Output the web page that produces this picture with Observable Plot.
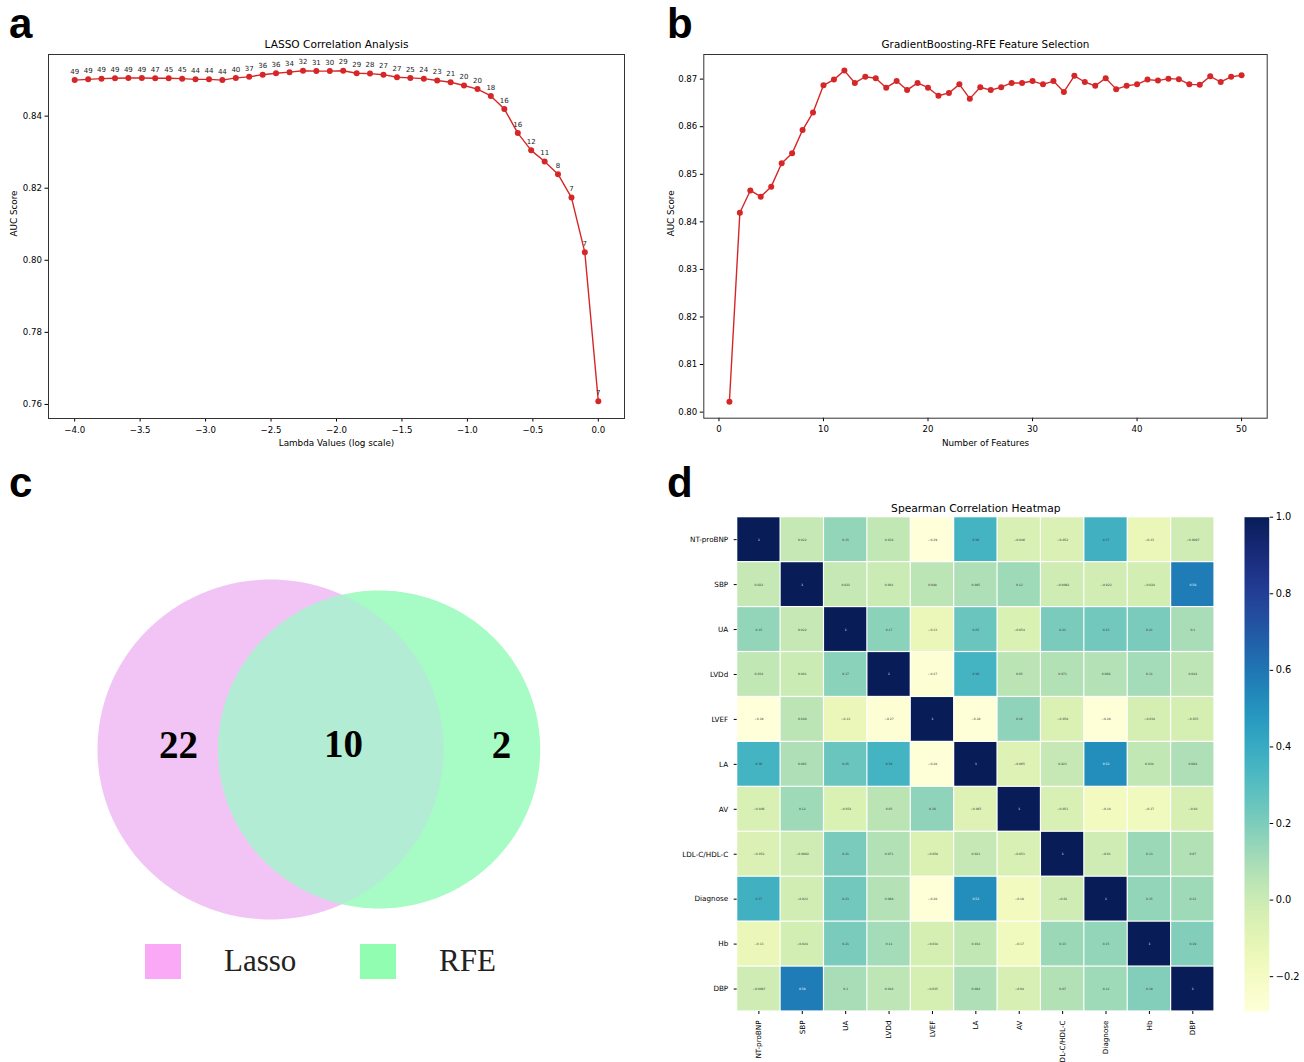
<!DOCTYPE html>
<html><head><meta charset="utf-8">
<script src="https://cdn.jsdelivr.net/npm/d3@7"></script>
<script src="https://cdn.jsdelivr.net/npm/@observablehq/plot@0.6"></script>
<style>
body{margin:0;background:#fff;}
#root{position:relative;width:1304px;height:1062px;overflow:hidden;background:#fff;font-family:"DejaVu Sans",sans-serif;}
.panel{position:absolute;}
.panel svg{overflow:visible;}
.letter{position:absolute;font-family:"Liberation Sans",Arial,sans-serif;font-weight:bold;font-size:42px;line-height:1;color:#000;}
.leg{position:absolute;font-family:"Liberation Serif","Times New Roman",serif;font-size:31px;color:#222;line-height:1;}
.sw{position:absolute;}
</style></head><body>
<div id="root">
  <div class="letter" style="left:9px;top:3px;">a</div>
  <div class="letter" style="left:667px;top:3px;">b</div>
  <div class="letter" style="left:9px;top:462px;">c</div>
  <div class="letter" style="left:667px;top:462px;">d</div>
  <div class="panel" id="pa" style="left:0;top:30px;"></div>
  <div class="panel" id="pb" style="left:660px;top:30px;"></div>
  <div class="panel" id="pc" style="left:0;top:460px;"></div>
  <div class="panel" id="pd" style="left:680px;top:495px;"></div>
  <div class="panel" id="pe" style="left:1230px;top:495px;"></div>
</div>
<script>
// ---------- Panel a: LASSO ----------
const lassoLogLambda = [-4.000,-3.897,-3.795,-3.692,-3.590,-3.487,-3.385,-3.282,-3.179,-3.077,
  -2.974,-2.872,-2.769,-2.667,-2.564,-2.462,-2.359,-2.256,-2.154,-2.051,
  -1.949,-1.846,-1.744,-1.641,-1.538,-1.436,-1.333,-1.231,-1.128,-1.026,
  -0.923,-0.821,-0.718,-0.615,-0.513,-0.410,-0.308,-0.205,-0.103,0.000];
const lassoAUC = [0.8500,0.8502,0.8504,0.8505,0.8506,0.8506,0.8505,0.8505,0.8504,0.8502,
  0.8502,0.8500,0.8506,0.8509,0.8515,0.8519,0.8522,0.8526,0.8525,0.8525,
  0.8526,0.8519,0.8518,0.8515,0.8508,0.8506,0.8504,0.8499,0.8494,0.8485,
  0.8475,0.8456,0.8420,0.8353,0.8305,0.8274,0.8239,0.8174,0.8022,0.7609];
const lassoNFeatures = [49,49,49,49,49,49,47,45,45,44,44,44,40,37,36,36,34,32,31,30,
  29,29,28,27,27,25,24,23,21,20,20,18,16,16,12,11,8,7,7,7];

// ---------- Panel b: RFE ----------
const rfeNFeatures = [1,2,3,4,5,6,7,8,9,10,11,12,13,14,15,16,17,18,19,20,21,22,23,24,25,
  26,27,28,29,30,31,32,33,34,35,36,37,38,39,40,41,42,43,44,45,46,47,48,49,50];
const rfeAUC = [0.8022,0.8419,0.8466,0.8453,0.8474,0.8523,0.8544,0.8593,0.8630,0.8687,
  0.8699,0.8718,0.8692,0.8705,0.8702,0.8682,0.8696,0.8677,0.8692,0.8682,
  0.8665,0.8671,0.8689,0.8659,0.8683,0.8677,0.8683,0.8692,0.8692,0.8696,
  0.8689,0.8696,0.8673,0.8707,0.8694,0.8686,0.8702,0.8679,0.8686,0.8689,
  0.8699,0.8697,0.8701,0.8700,0.8689,0.8688,0.8706,0.8694,0.8705,0.8708];

// ---------- Panel c: Venn ----------
const vennSets = ["Lasso","RFE"];
const vennRegions = ["Lasso only","Both","RFE only"];
const vennCounts = [22,10,2];

// ---------- Panel d: Heatmap ----------
const heatVars = ["NT-proBNP","SBP","UA","LVDd","LVEF","LA","AV","LDL-C/HDL-C","Diagnose","Hb","DBP"];
const heatMatrix = [
  [1,0.022,0.15,0.034,-0.29,0.36,-0.046,-0.052,0.37,-0.13,-0.0097],
  [0.022,1,0.022,0.001,0.048,0.085,0.12,-0.0092,-0.022,-0.024,0.58],
  [0.15,0.022,1,0.17,-0.13,0.25,-0.054,0.21,0.23,0.21,0.1],
  [0.034,0.001,0.17,1,-0.27,0.36,0.05,0.071,0.068,0.11,0.044],
  [-0.29,0.048,-0.13,-0.27,1,-0.28,0.16,-0.058,-0.28,-0.034,-0.035],
  [0.36,0.085,0.25,0.36,-0.28,1,-0.065,0.021,0.52,0.034,0.084],
  [-0.046,0.12,-0.054,0.05,0.16,-0.065,1,-0.051,-0.18,-0.17,-0.04],
  [-0.052,-0.0092,0.21,0.071,-0.058,0.021,-0.051,1,-0.01,0.13,0.07],
  [0.37,-0.022,0.23,0.068,-0.28,0.52,-0.18,-0.01,1,0.15,0.12],
  [-0.13,-0.024,0.21,0.11,-0.034,0.034,-0.17,0.13,0.15,1,0.19],
  [-0.0097,0.58,0.1,0.044,-0.035,0.084,-0.04,0.07,0.12,0.19,1]
];
const colorbarTicks = [-0.2,0,0.2,0.4,0.6,0.8,1.0];

// ================= rendering =================
const RED = "#d62728";
const baseStyle = {fontFamily:"DejaVu Sans", fontSize:"8.6px", color:"#000", background:"transparent", overflow:"visible"};

// Panel a
const lassoData = lassoLogLambda.map((x,i)=>({x, y:lassoAUC[i], n:lassoNFeatures[i]}));
document.getElementById("pa").append(Plot.plot({
  width:640, height:430, marginLeft:48, marginRight:16, marginTop:24, marginBottom:42,
  style:baseStyle,
  x:{domain:[-4.2,0.2], ticks:[-4,-3.5,-3,-2.5,-2,-1.5,-1,-0.5,0], tickFormat:".1f", label:null, tickSize:3.5, tickPadding:4.5},
  y:{domain:[0.7561,0.8571], ticks:[0.76,0.78,0.80,0.82,0.84], tickFormat:".2f", label:null, tickSize:3.5, tickPadding:3},
  marks:[
    Plot.frame({stroke:"#333"}),
    Plot.line(lassoData,{x:"x", y:"y", stroke:RED, strokeWidth:1.4}),
    Plot.dot(lassoData,{x:"x", y:"y", r:3, fill:RED}),
    Plot.text(lassoData,{x:"x", y:"y", text:"n", dy:-8.5, fontSize:7, fill:"#222"}),
    Plot.text(["LASSO Correlation Analysis"],{frameAnchor:"top", lineAnchor:"middle", dy:-10, fontSize:10.6}),
    Plot.text(["Lambda Values (log scale)"],{frameAnchor:"bottom", lineAnchor:"middle", dy:25, fontSize:8.8}),
    Plot.text(["AUC Score"],{frameAnchor:"left", lineAnchor:"middle", dx:-34, rotate:-90, fontSize:8.8})
  ]
}));

// Panel b
const rfeData = rfeNFeatures.map((x,i)=>({x, y:rfeAUC[i]}));
document.getElementById("pb").append(Plot.plot({
  width:640, height:430, marginLeft:43.3, marginRight:33.3, marginTop:24, marginBottom:42.3,
  style:baseStyle,
  x:{domain:[-1.45,52.45], ticks:[0,10,20,30,40,50], label:null, tickSize:3.5, tickPadding:4.5},
  y:{domain:[0.79872,0.87518], ticks:[0.80,0.81,0.82,0.83,0.84,0.85,0.86,0.87], tickFormat:".2f", label:null, tickSize:3.5, tickPadding:3},
  marks:[
    Plot.frame({stroke:"#333"}),
    Plot.line(rfeData,{x:"x", y:"y", stroke:RED, strokeWidth:1.4}),
    Plot.dot(rfeData,{x:"x", y:"y", r:3, fill:RED}),
    Plot.text(["GradientBoosting-RFE Feature Selection"],{frameAnchor:"top", lineAnchor:"middle", dy:-10, fontSize:10.4}),
    Plot.text(["Number of Features"],{frameAnchor:"bottom", lineAnchor:"middle", dy:25, fontSize:8.8}),
    Plot.text(["AUC Score"],{frameAnchor:"left", lineAnchor:"middle", dx:-33, rotate:-90, fontSize:8.8})
  ]
}));

// Panel c (Venn) - layout in panel pixel coordinates
const vennLayout = {
  Lasso:{cx:270, cy:749, rx:173, ry:170, fill:"#f2c4f5", legend:"#f9a9f6"},
  RFE:{cx:378.7, cy:749, rx:161, ry:159, fill:"#a7fbc4", legend:"#91fdb0"}
};
const vennLabelPos = [{x:178,y:745},{x:343,y:744},{x:501,y:745}];
function ellipsePts(e, a0, a1, steps){
  const pts=[]; for(let k=0;k<=steps;k++){const a=a0+(a1-a0)*k/steps; pts.push({x:e.cx+e.rx*Math.cos(a), y:e.cy+e.ry*Math.sin(a)});} return pts;
}
function inside(e,p){return ((p.x-e.cx)/e.rx)**2+((p.y-e.cy)/e.ry)**2<=1;}
const A = vennLayout.Lasso, B = vennLayout.RFE;
const lensA = ellipsePts(A,-Math.PI,Math.PI,720).filter(p=>inside(B,p));
const lensB = ellipsePts(B,0,2*Math.PI,720).filter(p=>inside(A,p));
const lens = lensA.concat(lensB);
const vennLabels = vennCounts.map((c,i)=>({region:vennRegions[i], count:c, ...vennLabelPos[i]}));
document.getElementById("pc").append(Plot.plot({
  width:640, height:600, margin:0,
  style:{...baseStyle},
  x:{domain:[0,640], range:[0,640], axis:null},
  y:{domain:[460,1060], range:[0,600], axis:null},
  marks:[
    Plot.line(ellipsePts(A,0,2*Math.PI,360),{x:"x", y:"y", fill:A.fill, stroke:"none"}),
    Plot.line(ellipsePts(B,0,2*Math.PI,360),{x:"x", y:"y", fill:B.fill, stroke:"none"}),
    Plot.line(lens,{x:"x", y:"y", fill:"#b3ecd4", stroke:"none"}),
    Plot.text(vennLabels,{x:"x", y:"y", text:"count", fontFamily:"Liberation Serif", fontWeight:"bold", fontSize:39, fill:"#000"})
  ]
}));
// Venn legend (HTML)
const legendPos = [{sx:145, tx:224},{sx:360, tx:439}];
vennSets.forEach((s,i)=>{
  const sw=document.createElement("div"); sw.className="sw";
  sw.style.cssText=`left:${legendPos[i].sx}px;top:944px;width:36px;height:35px;background:${vennLayout[s].legend};`;
  document.getElementById("root").append(sw);
  const t=document.createElement("div"); t.className="leg"; t.textContent=s;
  t.style.cssText=`left:${legendPos[i].tx}px;top:945px;`;
  document.getElementById("root").append(t);
});

// Panel d heatmap
const cells = [];
heatVars.forEach((r,i)=>heatVars.forEach((c,j)=>cells.push({row:r, col:c, value:heatMatrix[i][j]})));
const fmt = d3.format(".2~g");
const cdomain = [-0.291, 1];
document.getElementById("pd").append(Plot.plot({
  width:545, height:567, marginLeft:56.7, marginRight:11, marginTop:21.7, marginBottom:51,
  style:{...baseStyle, fontSize:"7.2px"},
  x:{domain:heatVars, label:null, tickRotate:-90, padding:0, round:false, tickSize:3},
  y:{domain:heatVars, label:null, padding:0, round:false, tickSize:3},
  color:{scheme:"YlGnBu", domain:cdomain},
  marks:[
    Plot.cell(cells,{x:"col", y:"row", fill:"value", inset:0.6}),
    Plot.text(cells,{x:"col", y:"row", text:d=>fmt(d.value), fontSize:3, fill:d=>d.value>0.42?"#fff":"#333"}),
    Plot.text(["Spearman Correlation Heatmap"],{frameAnchor:"top", lineAnchor:"middle", dy:-9, fontSize:10.7})
  ]
}));

// Colorbar
document.getElementById("pe").append(Plot.plot({
  width:74, height:567, marginLeft:14, marginRight:35.3, marginTop:21.7, marginBottom:51,
  style:{...baseStyle, fontSize:"9.8px"},
  x:{domain:[0,1], axis:null},
  y:{domain:cdomain, ticks:colorbarTicks, tickFormat:".1f", axis:"right", label:null, tickSize:3.5, tickPadding:3},
  color:{scheme:"YlGnBu", domain:cdomain},
  marks:[
    Plot.raster({fill:(x,y)=>y, x1:0, x2:1, y1:cdomain[0], y2:cdomain[1], imageRendering:"auto"})
  ]
}));
</script></body></html>
